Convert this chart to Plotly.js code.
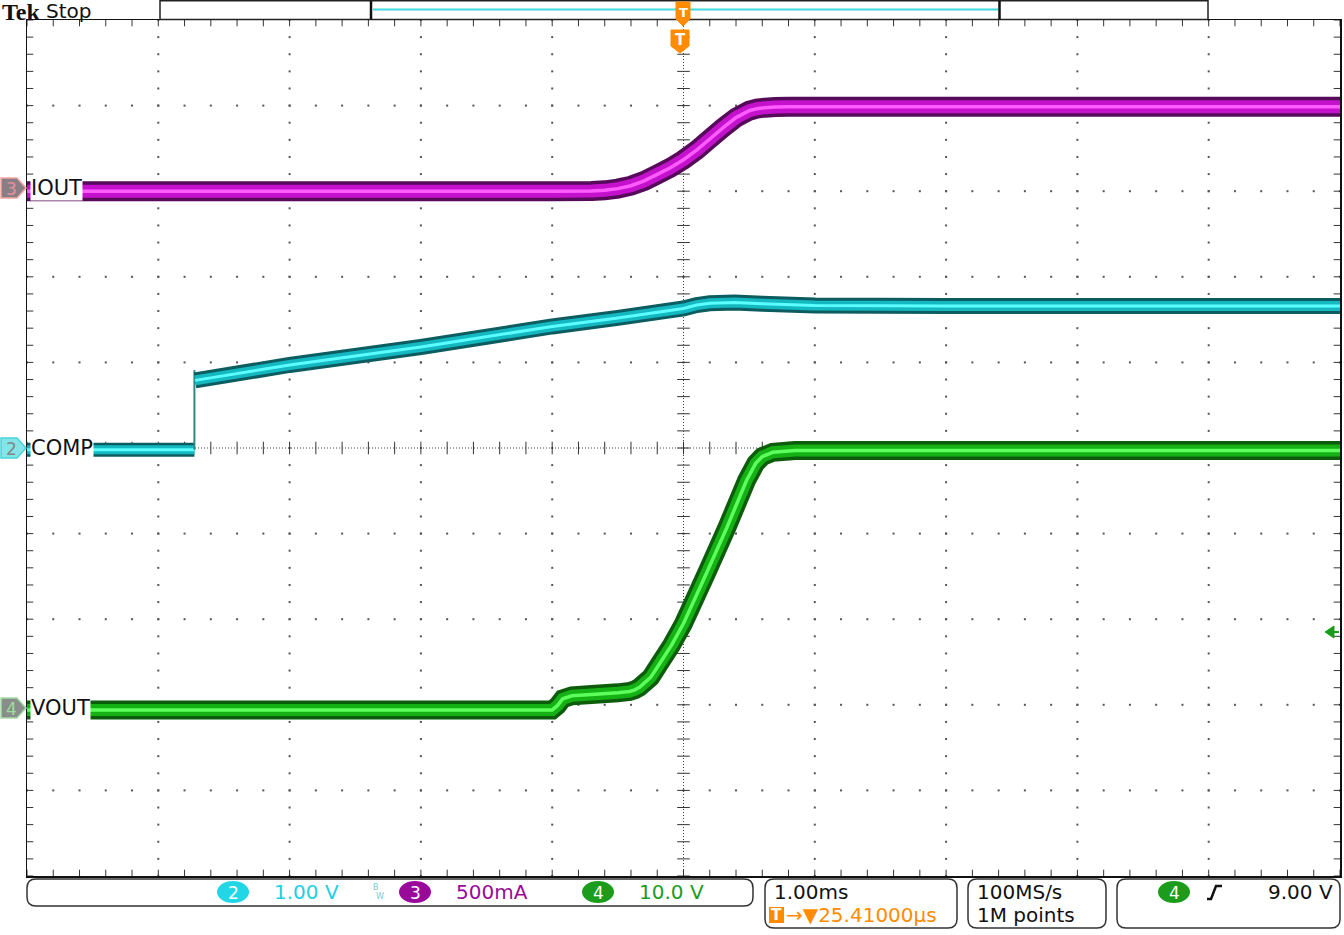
<!DOCTYPE html>
<html><head><meta charset="utf-8">
<script src="https://cdn.plot.ly/plotly-3.0.1.min.js"></script>
<style>html,body{margin:0;padding:0;background:#fff;overflow:hidden}#chart{width:1344px;height:935px}</style>
</head><body><div id="chart"></div>
<script>
// ---------- DATA (time in ms, physical units) ----------
// Channel 2: COMP (V)
const compPreTime  = [-5.0, -3.725];
const compPreV     = [-0.02, -0.02];
const compStepTime = [-3.725, -3.725];
const compStepV    = [-0.02, 0.91];
const compTime = [-3.72, -3.0, -2.0, -1.0, -0.5, 0.0, 0.1, 0.2, 0.39, 0.6, 1.0, 2.0, 5.0];
const compV    = [0.79, 0.97, 1.18, 1.42, 1.52, 1.63, 1.67, 1.69, 1.70, 1.685, 1.665, 1.66, 1.66];
// Channel 3: IOUT (A)
const ioutTime = [-5.0, -1.0, -0.7, -0.6, -0.5, -0.4, -0.3, -0.2, -0.1, 0.0, 0.1, 0.2, 0.3, 0.4, 0.5, 0.56, 0.62, 0.7, 0.8, 5.0];
const ioutA    = [-0.02, -0.02, -0.019, -0.015, -0.005, 0.012, 0.04, 0.078, 0.117, 0.164, 0.22, 0.285, 0.35, 0.41, 0.45, 0.462, 0.468, 0.472, 0.473, 0.473];
// Channel 4: VOUT (V)
const voutTime = [-5.0, -1.0, -0.96, -0.92, -0.85, -0.7, -0.5, -0.41, -0.37, -0.335, -0.25, -0.18, -0.09, 0.0, 0.175, 0.33, 0.48, 0.55, 0.6, 0.68, 0.85, 5.0];
const voutV    = [-0.2, -0.2, 0.3, 1.1, 1.45, 1.6, 1.8, 1.95, 2.15, 2.45, 3.6, 5.26, 7.4, 9.9, 15.77, 21.1, 26.6, 28.6, 29.4, 29.9, 30.1, 30.1];

// Readout texts
const ch2Scale = "1.00 V", ch3Scale = "500mA", ch4Scale = "10.0 V";
const timeDiv = "1.00ms", trigDelay = "→▼25.41000µs";
const sampleRate = "100MS/s", recordLen = "1M points", trigLevel = "9.00 V";

// ---------- channel vertical settings (div units) ----------
const CH = {
  comp: {scale: 1.0, offset: 0.0},
  iout: {scale: 0.5, offset: 3.04},
  vout: {scale: 10.0, offset: -3.04}
};
const toDiv = (vals, c) => vals.map(v => v / c.scale + c.offset);

// ---------- geometry helpers (page px -> paper) ----------
const PL = 27, PT = 20, PW = 1313, PH = 856;
const px = x => (x - PL) / PW;
const py = y => (PT + PH - y) / PH;

const traces = [];

// ---------- graticule ----------
const steps = [];
for (let i = 0; i <= 50; i++) steps.push(-5 + i * 0.2);
const gx = [], gy = [];
for (let k = -4; k <= 4; k++) {
  if (k === 0) continue;
  steps.forEach(s => { gx.push(k); gy.push(s); });
  steps.forEach(s => { gx.push(s); gy.push(k); });
}
traces.push({x: gx, y: gy, mode: 'markers', type: 'scatter', hoverinfo: 'skip',
  marker: {symbol: 'square', size: 2, color: '#555', line: {width: 0}}});
const tx = [], ty = [];
steps.forEach(s => { tx.push(s, s, s); ty.push(0, 5, -5); });
traces.push({x: tx, y: ty, mode: 'markers', type: 'scatter', hoverinfo: 'skip',
  marker: {symbol: 'line-ns', size: 9, color: '#333', line: {width: 1, color: '#333'}}});
const vx = [], vy = [];
steps.forEach(s => { vx.push(0, 5, -5); vy.push(s, s, s); });
traces.push({x: vx, y: vy, mode: 'markers', type: 'scatter', hoverinfo: 'skip',
  marker: {symbol: 'line-ew', size: 9, color: '#333', line: {width: 1, color: '#333'}}});

// ---------- waveform bands ----------
function band(x, y, cols, widths) {
  cols.forEach((c, i) => {
    traces.push({x: x, y: y, mode: 'lines', type: 'scatter', hoverinfo: 'skip',
      line: {color: c, width: widths[i], shape: 'linear', simplify: false}});
  });
}
const ioutCols = ['#560a5a', '#c412cc', '#ff5cff'];
const compCols = ['#0c5c60', '#14b8c0', '#5cffff'];
const voutCols = ['#0c5c0c', '#14b014', '#5cff5c'];

band(ioutTime, toDiv(ioutA, CH.iout), ioutCols, [20, 13, 3.5]);
band(compPreTime, toDiv(compPreV, CH.comp), compCols, [14, 9, 3]);
traces.push({x: compStepTime, y: toDiv(compStepV, CH.comp), mode: 'lines', type: 'scatter', hoverinfo: 'skip',
  line: {color: '#2a8a8a', width: 2, simplify: false}});
band(compTime, toDiv(compV, CH.comp), compCols, [16, 10, 3]);
band(voutTime, toDiv(voutV, CH.vout), voutCols, [19, 12, 3.5]);

// ---------- shapes ----------
const shapes = [];
shapes.push({type: 'line', xref: 'x', yref: 'y', x0: -5, x1: 5, y0: 0, y1: 0, layer: 'below',
  line: {color: '#444', width: 1, dash: '1px,2px'}});
shapes.push({type: 'line', xref: 'x', yref: 'y', x0: 0, x1: 0, y0: -5, y1: 5, layer: 'below',
  line: {color: '#444', width: 1, dash: '1px,2px'}});

function rr(x0, y0, x1, y1, r) {
  return `M${px(x0 + r)},${py(y0)} L${px(x1 - r)},${py(y0)} Q${px(x1)},${py(y0)} ${px(x1)},${py(y0 + r)} ` +
    `L${px(x1)},${py(y1 - r)} Q${px(x1)},${py(y1)} ${px(x1 - r)},${py(y1)} L${px(x0 + r)},${py(y1)} ` +
    `Q${px(x0)},${py(y1)} ${px(x0)},${py(y1 - r)} L${px(x0)},${py(y0 + r)} Q${px(x0)},${py(y0)} ${px(x0 + r)},${py(y0)} Z`;
}
function poly(pts) {
  return 'M' + pts.map(p => `${px(p[0])},${py(p[1])}`).join(' L') + ' Z';
}
function pathShape(path, fill, lineCol, lw) {
  return {type: 'path', xref: 'paper', yref: 'paper', path: path, fillcolor: fill || 'rgba(0,0,0,0)',
    line: {color: lineCol || 'rgba(0,0,0,0)', width: lw === undefined ? 1 : lw}, layer: 'above'};
}
function lineShape(x0, y0, x1, y1, col, w) {
  return {type: 'line', xref: 'paper', yref: 'paper', x0: px(x0), y0: py(y0), x1: px(x1), y1: py(y1),
    line: {color: col, width: w}, layer: 'above'};
}
function ellipse(cx, cy, rx, ry, fill) {
  return {type: 'circle', xref: 'paper', yref: 'paper', x0: px(cx - rx), x1: px(cx + rx), y0: py(cy + ry), y1: py(cy - ry),
    fillcolor: fill, line: {width: 0}, layer: 'above'};
}

// record view bar
shapes.push({type: 'rect', xref: 'paper', yref: 'paper', x0: px(160), x1: px(1208), y0: py(19.5), y1: py(0.8),
  line: {color: '#222', width: 1.5}, fillcolor: '#fff', layer: 'above'});
shapes.push(lineShape(371, 1, 371, 19.5, '#111', 2.5));
shapes.push(lineShape(999.5, 1, 999.5, 19.5, '#111', 2.5));
shapes.push(lineShape(373, 9.5, 998, 9.5, '#3fd8dc', 2));

// trigger position markers
shapes.push(pathShape(poly([[676, 2], [690, 2], [690, 19], [683, 26], [676, 19]]), '#ff8c00', '#ff8c00', 1));
shapes.push(pathShape(poly([[671, 30], [689, 30], [689, 46], [680, 53], [671, 46]]), '#ff8c00', '#ff8c00', 1));

// bottom readout boxes
shapes.push(pathShape(rr(27, 879, 753, 906, 9), null, '#333', 1.5));
shapes.push(pathShape(rr(765, 879, 957, 928, 9), null, '#333', 1.5));
shapes.push(pathShape(rr(968, 879, 1106, 928, 9), null, '#333', 1.5));
shapes.push(pathShape(rr(1117, 879, 1340, 928, 9), null, '#333', 1.5));
shapes.push(ellipse(233, 892, 16, 11, '#22d6e6'));
shapes.push(ellipse(415, 892, 16, 11, '#9a0a9a'));
shapes.push(ellipse(598, 892, 16, 11, '#1c9c1c'));
shapes.push(ellipse(1174, 892, 16, 11, '#1c9c1c'));
shapes.push({type: 'rect', xref: 'paper', yref: 'paper', x0: px(769), x1: px(784), y0: py(923), y1: py(907),
  fillcolor: '#ff8c00', line: {width: 0}, layer: 'above'});
shapes.push({type: 'path', xref: 'paper', yref: 'paper', layer: 'above',
  path: `M${px(1207)},${py(899)} L${px(1211)},${py(899)} L${px(1216)},${py(886)} L${px(1222)},${py(886)}`,
  line: {color: '#111', width: 2.5}});

// channel ground markers (left)
function chMarker(yc, fill, border) {
  shapes.push(pathShape(poly([[1, yc - 10], [17, yc - 10], [26, yc], [17, yc + 10], [1, yc + 10]]), fill, border, 1.5));
}
chMarker(188, '#8a7e86', '#f4a4a0');
chMarker(448, '#86e4e8', '#48d4dc');
chMarker(708, '#8a8e8a', '#a8dca8');

// trigger level arrow (right)
shapes.push(pathShape(poly([[1325, 632], [1334, 626], [1334, 638]]), '#1c9c1c', '#1c9c1c', 1));
shapes.push(lineShape(1333, 632, 1339, 632, '#1c9c1c', 2));

// ---------- annotations ----------
const F = 'DejaVu Sans, Verdana, sans-serif';
const ann = [];
function txt(text, x, y, size, color, xanchor, extra) {
  ann.push(Object.assign({text: text, xref: 'paper', yref: 'paper', x: px(x), y: py(y), xanchor: xanchor || 'left',
    yanchor: 'middle', showarrow: false, font: {family: F, size: size, color: color}, borderpad: 0}, extra || {}));
}
txt('<b>Tek</b>', 1, 12, 24, '#111', 'left', {font: {family: 'Liberation Serif, serif', size: 24, color: '#111'}});
txt('Stop', 45, 11, 20, '#111');
txt('<b>T</b>', 683, 12, 13, '#fff', 'center');
txt('<b>T</b>', 680, 40, 15, '#fff', 'center');
txt('IOUT', 30, 188, 21, '#111', 'left', {bgcolor: '#fff'});
txt('COMP', 30, 448, 21, '#111', 'left', {bgcolor: '#fff'});
txt('VOUT', 30, 708, 21, '#111', 'left', {bgcolor: '#fff'});
txt('3', 11, 189, 17, '#e8909a', 'center');
txt('2', 11, 449, 17, '#7a8a8a', 'center');
txt('4', 11, 709, 17, '#a0dca0', 'center');
txt('2', 233, 893, 17, '#fff', 'center');
txt(ch2Scale, 273, 892, 20, '#22cfe2');
txt('B', 376, 887, 8, '#7ac8d4', 'center');
txt('W', 380, 896, 8, '#7ac8d4', 'center');
txt('3', 415, 893, 17, '#fff', 'center');
txt(ch3Scale, 455, 892, 20, '#9a0a9a');
txt('4', 598, 893, 17, '#fff', 'center');
txt(ch4Scale, 638, 892, 20, '#1c9c1c');
txt(timeDiv, 773, 892, 20, '#111');
txt('<b>T</b>', 776.5, 915, 15, '#fff', 'center');
txt(trigDelay, 785, 915, 20, '#ff8c00');
txt(sampleRate, 976, 892, 20, '#111');
txt(recordLen, 976, 915, 20, '#111');
txt('4', 1174, 893, 17, '#fff', 'center');
txt(trigLevel, 1334, 892, 20, '#111', 'right');

const layout = {
  width: 1344, height: 935,
  margin: {l: PL, r: 1344 - PL - PW, t: PT, b: 935 - PT - PH, pad: 0},
  paper_bgcolor: '#fff', plot_bgcolor: '#fff', showlegend: false,
  xaxis: {range: [-5, 5], showgrid: false, zeroline: false, showticklabels: false, ticks: '',
    showline: true, mirror: true, linecolor: '#111', linewidth: 1.5, fixedrange: true},
  yaxis: {range: [-5, 5], showgrid: false, zeroline: false, showticklabels: false, ticks: '',
    showline: true, mirror: true, linecolor: '#111', linewidth: 1.5, fixedrange: true},
  shapes: shapes, annotations: ann
};
Plotly.newPlot('chart', traces, layout, {staticPlot: true, displayModeBar: false});
</script>
</body></html>
